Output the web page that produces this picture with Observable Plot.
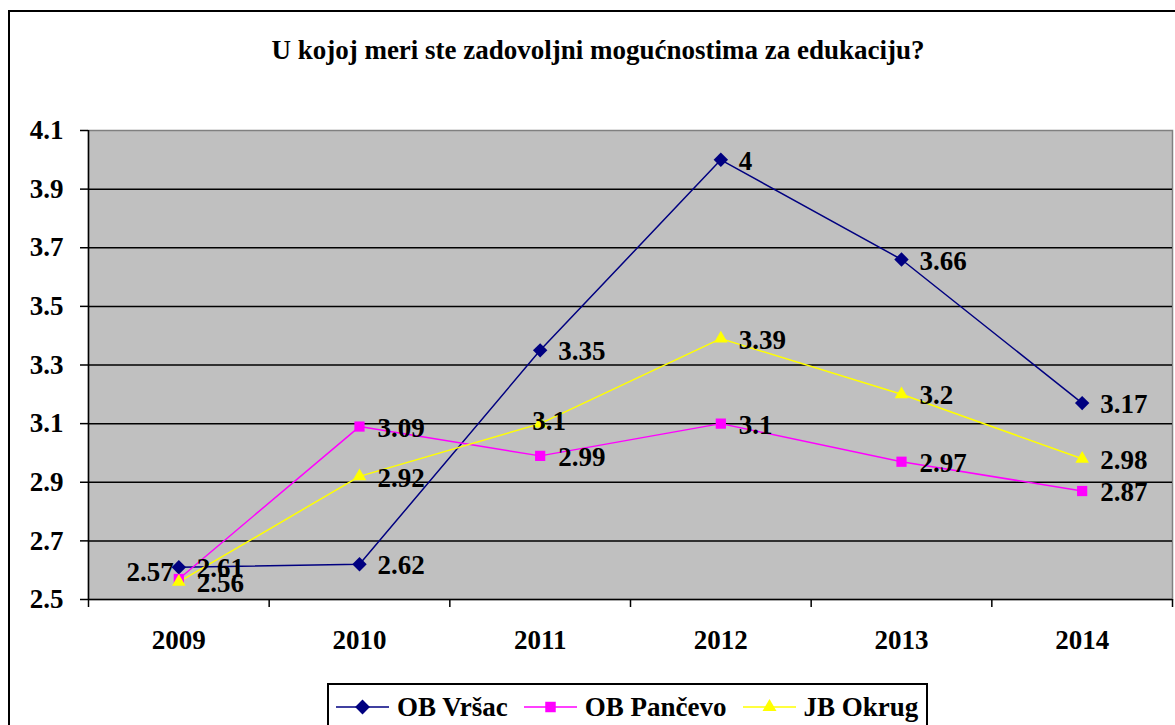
<!DOCTYPE html>
<html>
<head>
<meta charset="utf-8">
<script src="https://cdn.jsdelivr.net/npm/d3@7"></script>
<script src="https://cdn.jsdelivr.net/npm/@observablehq/plot@0.6"></script>
<style>
  html, body { margin: 0; padding: 0; background: #fff; overflow: hidden; width: 1175px; height: 725px; }
  #frame { position: absolute; left: 8px; top: 10px; width: 1300px; height: 900px; border: 2px solid #000; box-sizing: border-box; }
  #chart { position: absolute; left: 0; top: 0; }
  #title { position: absolute; left: 0; width: 1196px; top: 34px; text-align: center; font-family: "Liberation Serif", serif; font-weight: bold; font-size: 27px; line-height: 32px; white-space: nowrap; }
  #legend { position: absolute; left: 327px; top: 683px; width: 601px; height: 70px; border: 2px solid #000; box-sizing: border-box; background: #fff; font-family: "Liberation Serif", serif; font-weight: bold; font-size: 27px; line-height: 32px; display: flex; align-items: flex-start; padding-top: 6px; padding-left: 7px; white-space: nowrap; }
  .item { display: flex; align-items: center; margin-right: 16px; height: 32px; }
  .item svg { margin-right: 8px; display: block; }
</style>
</head>
<body>
<div id="frame"></div>
<div id="chart"></div>
<div id="title">U kojoj meri ste zadovoljni mogućnostima za edukaciju?</div>
<div id="legend"></div>
<script>
const years = [2009, 2010, 2011, 2012, 2013, 2014];
const seriesNames = ["OB Vršac", "OB Pančevo", "JB Okrug"];
const vrsac = [2.61, 2.62, 3.35, 4, 3.66, 3.17];
const pancevo = [2.57, 3.09, 2.99, 3.1, 2.97, 2.87];
const jbOkrug = [2.56, 2.92, 3.1, 3.39, 3.2, 2.98];
const yTicks = [2.5, 2.7, 2.9, 3.1, 3.3, 3.5, 3.7, 3.9, 4.1];
const colors = ["#000080", "#FF00FF", "#FFFF00"];
const symbols = ["diamond2", "square2", "triangle2"];

const seriesValues = [vrsac, pancevo, jbOkrug];
const data = [];
seriesNames.forEach((s, i) => years.forEach((y, j) => data.push({series: s, year: y, value: seriesValues[i][j]})));

// label placement groups (rendering only)
const isLeft = d => d.series === "OB Pančevo" && d.year === 2009;
const isOver = d => d.series === "JB Okrug" && d.year === 2011;
const isNormal = d => !isLeft(d) && !isOver(d);

const bounds = [years[0] - 0.5, ...years.map(y => y + 0.5)];
const labelOpts = {x: "year", y: "value", text: d => String(d.value), fill: "#000", fontSize: 27, fontWeight: "bold"};

const plot = Plot.plot({
  width: 1175,
  height: 670,
  marginLeft: 88,
  marginRight: 3,
  marginTop: 130,
  marginBottom: 71,
  style: {fontFamily: "'Liberation Serif', serif", fontWeight: "bold", fontSize: "27px", color: "#000", background: "transparent", overflow: "visible"},
  x: {type: "linear", domain: [years[0] - 0.5, years[years.length - 1] + 0.5]},
  y: {domain: [2.5, 4.1]},
  color: {domain: seriesNames, range: colors},
  symbol: {domain: seriesNames, range: symbols},
  marks: [
    Plot.frame({fill: "#C0C0C0", stroke: "#808080", strokeWidth: 1.5}),
    Plot.ruleY(yTicks.slice(0, -1), {stroke: "#000", strokeWidth: 1.5}),
    Plot.ruleX([bounds[0]], {stroke: "#000", strokeWidth: 1.5}),
    Plot.axisY({ticks: yTicks, tickSize: 8, tickPadding: 17, tickFormat: d3.format(".1f"), label: null, strokeWidth: 1.5, fontSize: 27}),
    Plot.axisX({ticks: bounds, tickSize: 8, tickFormat: () => "", label: null, strokeWidth: 1.5}),
    Plot.axisX({ticks: years, tickSize: 0, tickPadding: 30, tickFormat: d => String(d), label: null, fontSize: 27}),
    Plot.line(data, {x: "year", y: "value", z: "series", stroke: "series", strokeWidth: 1.5}),
    Plot.dot(data, {x: "year", y: "value", symbol: "series", fill: "series", r: 6.5}),
    Plot.text(data, {...labelOpts, filter: isNormal, textAnchor: "start", dx: 18, dy: 1.5}),
    Plot.text(data, {...labelOpts, filter: isLeft, textAnchor: "end", dx: -5, dy: -6.5}),
    Plot.text(data, {...labelOpts, filter: isOver, textAnchor: "start", dx: -8, dy: -2})
  ]
});
document.getElementById("chart").appendChild(plot);

// legend
const legend = document.getElementById("legend");
const symMap = {diamond2: d3.symbolDiamond2, square2: d3.symbolSquare2, triangle2: d3.symbolTriangle2};
seriesNames.forEach((s, i) => {
  const item = document.createElement("div");
  item.className = "item";
  const sw = d3.create("svg").attr("width", 53).attr("height", 20);
  sw.append("line").attr("x1", 0).attr("x2", 53).attr("y1", 10).attr("y2", 10).attr("stroke", colors[i]).attr("stroke-width", 1.5);
  sw.append("path").attr("d", d3.symbol(symMap[symbols[i]], 140)()).attr("transform", "translate(26.5,10)").attr("fill", colors[i]);
  item.appendChild(sw.node());
  const label = document.createElement("span");
  label.textContent = s;
  item.appendChild(label);
  legend.appendChild(item);
});
</script>
</body>
</html>
